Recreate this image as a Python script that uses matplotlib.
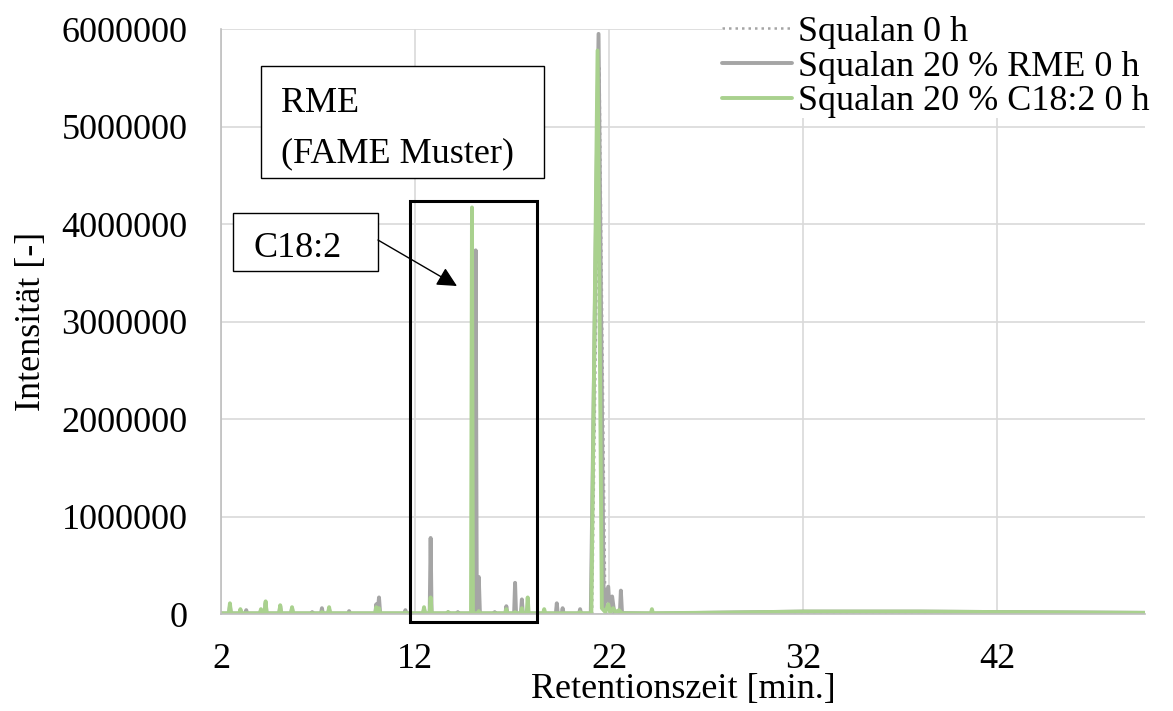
import numpy as np
import matplotlib
matplotlib.use("Agg")
import matplotlib.pyplot as plt
from matplotlib.patches import Rectangle

plt.rcParams['font.family'] = ['Liberation Serif', 'DejaVu Serif']
plt.rcParams['font.size'] = 26

# Squalan 0 h (nur Squalan-Peak)
squ_t = [2.0, 12.0, 21.12, 21.50, 21.80, 28.0, 38.0, 49.6]
squ_i = [3000, 3000, 3000, 5600000, 3000, 12000, 15000, 8000]

# Squalan 20 % RME 0 h
rme_t = [2.0, 2.41, 2.46, 2.51, 2.95, 3.00, 3.05, 3.25, 3.30, 3.35,
         4.01, 4.06, 4.11, 4.25, 4.30, 4.35, 5.00, 5.05, 5.10, 5.61, 5.66, 5.71,
         6.65, 6.70, 6.75, 7.15, 7.20, 7.25, 7.52, 7.57, 7.62, 8.55, 8.60, 8.65,
         9.95, 10.00, 10.07, 10.14, 10.20, 11.45, 11.50, 11.55,
         12.41, 12.46, 12.51, 12.75, 12.80, 12.85, 13.65, 13.70, 13.75,
         14.15, 14.20, 14.25, 15.07, 15.12, 15.18, 15.28, 15.34,
         16.05, 16.10, 16.15, 16.65, 16.70, 16.75, 17.10, 17.15, 17.20,
         17.45, 17.50, 17.55, 17.75, 17.80, 17.85, 18.60, 18.65, 18.70,
         19.25, 19.30, 19.35, 19.55, 19.60, 19.65, 20.45, 20.50, 20.55,
         21.05, 21.45, 21.72, 21.95, 22.02, 22.15, 22.25, 22.55, 22.60, 22.66,
         24.15, 24.20, 24.25, 28.0, 32.0, 38.0, 44.0, 49.6]
rme_i = [5000, 5000, 80000, 5000, 5000, 40000, 5000, 5000, 40000, 5000,
         5000, 40000, 5000, 5000, 110000, 5000, 5000, 80000, 5000, 5000, 60000, 5000,
         5000, 20000, 5000, 5000, 60000, 5000, 5000, 50000, 5000, 5000, 30000, 5000,
         5000, 100000, 20000, 170000, 5000, 5000, 40000, 5000,
         5000, 50000, 5000, 5000, 780000, 5000, 5000, 20000, 5000,
         5000, 20000, 5000, 5000, 3730000, 5000, 380000, 5000,
         5000, 20000, 5000, 5000, 80000, 5000, 5000, 320000, 5000,
         5000, 150000, 5000, 5000, 50000, 5000, 5000, 30000, 5000,
         5000, 110000, 5000, 5000, 60000, 5000, 5000, 50000, 5000,
         5000, 5950000, 60000, 280000, 40000, 180000, 30000, 20000, 240000, 10000,
         5000, 30000, 5000, 15000, 25000, 25000, 18000, 12000]

# Squalan 20 % C18:2 0 h
c18_t = [2.0, 2.41, 2.46, 2.51, 2.95, 3.00, 3.05,
         4.01, 4.06, 4.11, 4.25, 4.30, 4.35, 5.00, 5.05, 5.10, 5.61, 5.66, 5.71,
         7.15, 7.20, 7.25, 7.52, 7.57, 7.62,
         9.95, 10.00, 10.05, 10.09, 10.14, 10.19, 11.45, 11.50, 11.55,
         12.41, 12.46, 12.51, 12.75, 12.80, 12.85, 13.65, 13.70, 13.75,
         14.88, 14.93, 14.98, 15.23, 15.28, 15.33,
         16.65, 16.70, 16.75, 17.10, 17.15, 17.20, 17.45, 17.50, 17.55,
         17.75, 17.80, 17.85, 18.60, 18.65, 18.70, 20.45, 20.50, 20.55,
         21.08, 21.40, 21.62, 21.80, 21.95, 22.05, 22.20, 22.35, 22.50, 22.65,
         24.15, 24.20, 24.25, 28.0, 32.0, 38.0, 44.0, 49.6]
c18_i = [8000, 8000, 110000, 8000, 8000, 50000, 8000,
         8000, 50000, 8000, 8000, 130000, 8000, 8000, 90000, 8000, 8000, 70000, 8000,
         8000, 20000, 8000, 8000, 70000, 8000,
         8000, 70000, 8000, 8000, 60000, 8000, 8000, 15000, 8000,
         8000, 70000, 8000, 8000, 170000, 8000, 8000, 20000, 8000,
         8000, 4170000, 8000, 8000, 30000, 8000,
         8000, 50000, 8000, 8000, 20000, 8000, 8000, 60000, 8000,
         8000, 170000, 8000, 8000, 50000, 8000, 8000, 20000, 8000,
         8000, 5780000, 60000, 20000, 100000, 15000, 60000, 10000, 40000, 8000,
         8000, 50000, 8000, 15000, 25000, 25000, 18000, 12000]

x_ticks = [2, 12, 22, 32, 42]
y_ticks = [0, 1000000, 2000000, 3000000, 4000000, 5000000, 6000000]

grey = '#A5A5A5'
green = '#A9D18E'

fig = plt.figure(figsize=(11.73, 7.11), dpi=100)
ax = fig.add_axes([0.1884, 0.1364, 0.7877, 0.8228])

ax.plot(squ_t, squ_i, color=grey, lw=1.8, ls=(0, (1, 1.6)), label='Squalan 0 h')
ax.plot(rme_t, rme_i, color=grey, lw=2.8, solid_joinstyle='round',
        solid_capstyle='round', label='Squalan 20 % RME 0 h')
ax.plot(c18_t, c18_i, color=green, lw=2.8, solid_joinstyle='round',
        solid_capstyle='round', label='Squalan 20 % C18:2 0 h')

ax.set_xlim(2, 49.6)
ax.set_ylim(0, 6000000)
ax.set_xticks(x_ticks)
ax.set_xticklabels([str(v) for v in x_ticks])
ax.set_yticks(y_ticks)
ax.set_yticklabels([str(v) for v in y_ticks])
ax.tick_params(length=0)
ax.tick_params(axis='y', pad=24)
ax.tick_params(axis='x', pad=21)
ax.grid(True, color='#D9D9D9', lw=1.2)
ax.set_axisbelow(True)
for s in ['top', 'right']:
    ax.spines[s].set_visible(False)
for s in ['left', 'bottom']:
    ax.spines[s].set_color('#BFBFBF')
    ax.spines[s].set_linewidth(1.2)

ax.set_xlabel('Retentionszeit [min.]', labelpad=-2)
ax.set_ylabel('Intensität [-]', labelpad=10)

# Beschriftungen
ax.add_patch(Rectangle((0.0433, 0.7453), 0.3063, 0.1915, transform=ax.transAxes,
                       fill=True, facecolor='white', edgecolor='black', lw=1.0, zorder=5))
ax.text(0.0649, 0.8581, 'RME', transform=ax.transAxes, zorder=6)
ax.text(0.0649, 0.7726, '(FAME Muster)', transform=ax.transAxes, zorder=6)

ax.add_patch(Rectangle((0.013, 0.5863), 0.1569, 0.0992, transform=ax.transAxes,
                       fill=True, facecolor='white', edgecolor='black', lw=1.0, zorder=5))
ax.text(0.0357, 0.6103, 'C18:2', transform=ax.transAxes, zorder=6)
ax.annotate('', xy=(0.2554, 0.5607), xytext=(0.1699, 0.6393),
            xycoords='axes fraction', textcoords='axes fraction',
            arrowprops=dict(arrowstyle='-|>', color='black', lw=1.0,
                            mutation_scale=30, shrinkA=0, shrinkB=0), zorder=6)

ax.add_patch(Rectangle((0.2045, -0.0137), 0.1375, 0.7197, transform=ax.transAxes,
                       fill=False, edgecolor='black', lw=2.2, zorder=6, clip_on=False))

leg = ax.legend(loc='upper left', bbox_to_anchor=(0.6155, 0.978),
                bbox_transform=fig.transFigure, frameon=True, fancybox=False,
                framealpha=1, edgecolor='none', borderpad=0, borderaxespad=0,
                handlelength=1.95, handletextpad=0.15, labelspacing=0.04)

fig.savefig('out.png', dpi=100)
